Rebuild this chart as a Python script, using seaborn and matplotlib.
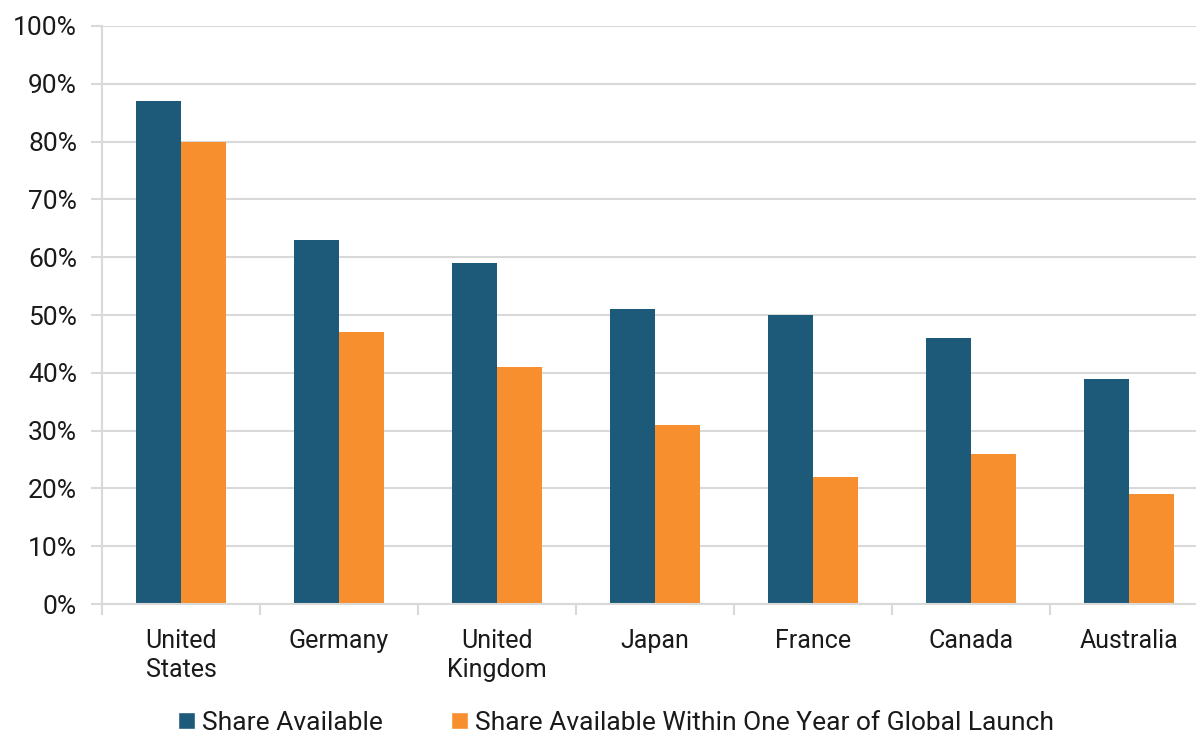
import pandas as pd
import numpy as np
import matplotlib
matplotlib.use("Agg")
import matplotlib.pyplot as plt
import seaborn as sns
from matplotlib.ticker import FixedLocator, PercentFormatter
from matplotlib.patches import Patch

# chart data
countries = ["United\nStates", "Germany", "United\nKingdom", "Japan", "France", "Canada", "Australia"]
share_available = [87, 63, 59, 51, 50, 46, 39]
share_within_year = [80, 47, 41, 31, 22, 26, 19]
series_names = ["Share Available", "Share Available Within One Year of Global Launch"]
colors = ["#1d5a7a", "#f78f2e"]

df = pd.DataFrame({
    "country": countries * 2,
    "value": share_available + share_within_year,
    "series": [series_names[0]] * len(countries) + [series_names[1]] * len(countries),
})

sns.set_theme(style="white")
plt.rcParams["font.family"] = ["Liberation Sans Narrow", "Roboto", "DejaVu Sans"]

fig = plt.figure(figsize=(11.96, 7.36), dpi=100)
ax = fig.add_axes([0.0853, 0.1793, 0.9247, 0.7854])

sns.barplot(data=df, x="country", y="value", hue="series", palette=colors,
            width=0.57, saturation=1, linewidth=0, legend=False, ax=ax)

ax.set_ylim(0, 100)
ax.set_xlim(-0.5, len(countries) - 0.5)
ax.yaxis.set_major_locator(FixedLocator(np.arange(0, 101, 10)))
ax.yaxis.set_major_formatter(PercentFormatter(decimals=0))
ax.grid(axis="y", color="#d9d9d9", linewidth=1.5)
ax.set_axisbelow(True)

for side in ["top", "right"]:
    ax.spines[side].set_visible(False)
for side in ["left", "bottom"]:
    ax.spines[side].set_color("#d9d9d9")
    ax.spines[side].set_linewidth(1.5)

ax.tick_params(axis="y", left=True, length=8, color="#d9d9d9", width=1.5,
               labelsize=19, labelcolor="#1a1a1a", pad=10)
ax.tick_params(axis="x", which="major", bottom=False, labelsize=18,
               labelcolor="#1a1a1a", pad=12)
ax.xaxis.set_minor_locator(FixedLocator(np.arange(-0.5, len(countries), 1)))
ax.tick_params(axis="x", which="minor", bottom=True, length=8, color="#d9d9d9", width=1.5)
for lbl in ax.get_xticklabels():
    lbl.set_linespacing(1.25)
ax.set_xlabel("")
ax.set_ylabel("")

handles = [Patch(facecolor=c, label=n) for c, n in zip(colors, series_names)]
fig.legend(handles=handles, loc="center", bbox_to_anchor=(0.515, 0.018), ncol=2,
           frameon=False, fontsize=19, handlelength=0.65, handleheight=0.65,
           handletextpad=0.25, columnspacing=2.6, labelcolor="#1a1a1a")

fig.savefig("out.png", dpi=100)
